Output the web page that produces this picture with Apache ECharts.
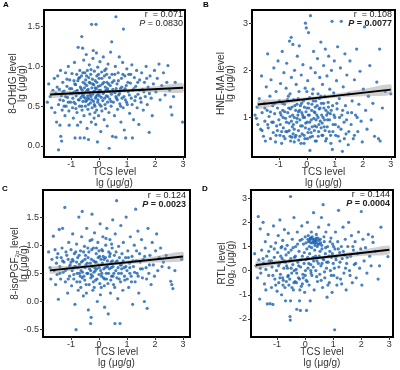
<!DOCTYPE html>
<html>
<head>
<meta charset="utf-8">
<script src="https://cdn.jsdelivr.net/npm/echarts@6/dist/echarts.min.js"></script>
<style>
  html, body { margin: 0; padding: 0; background: #fff; }
  #chart { width: 400px; height: 370px; }
</style>
</head>
<body>
<div id="chart"></div>
<script>
// tick labels
var xTicks = [-1, 0, 1, 2, 3];
var aTicks = [0.0, 0.5, 1.0, 1.5];
var bTicks = [1, 2, 3];
var cTicks = [-0.5, 0.0, 0.5, 1.0, 1.5];
var dTicks = [-2, -1, 0, 1, 2, 3];

// A: 8-OHdG vs TCS
var aPoints = [
  [-1.85,0.55],[-1.8,0.78],[-1.75,0.62],[-1.7,0.48],[-1.65,0.7],[-1.6,0.85],[-1.58,0.42],[-1.55,0.66],[-1.52,0.3],[-1.5,0.74],[-1.45,-0.05],[-1.4,0.58],
  [-1.48,0.88],[-1.45,0.52],[-1.42,0.71],[-1.4,0.26],[-1.38,0.95],[-1.37,0.12],[-1.35,0.63],[-1.34,0.06],[-1.32,0.45],[-1.3,0.8],[-1.28,0.57],[-1.25,0.69],[-1.22,0.38],[-1.2,0.92],[-1.18,0.5],[-1.15,0.75],[-1.13,0.61],[-1.1,1.0],[-1.08,0.44],[-1.07,0.26],[-1.05,0.83],[-1.03,0.66],[-1.02,0.55],
  [-0.98,0.72],[-0.97,0.91],[-0.95,0.48],[-0.94,0.6],[-0.92,0.35],[-0.9,0.82],[-0.89,0.68],[-0.88,1.05],[-0.86,0.1],[-0.85,0.53],[-0.84,0.77],[-0.82,0.63],[-0.8,0.9],[-0.79,0.42],[-0.78,0.7],[-0.77,0.26],[-0.75,1.24],[-0.74,0.58],[-0.73,0.85],[-0.72,0.66],[-0.7,0.5],[-0.69,0.95],[-0.68,0.1],[-0.67,0.74],[-0.66,0.3],[-0.65,0.61],[-0.63,0.88],[-0.62,1.375],[-0.61,0.45],[-0.6,0.7],[-0.59,1.23],[-0.58,0.56],[-0.57,0.8],[-0.56,0.65],[-0.55,1.08],[-0.54,0.38],[-0.53,0.1],[-0.52,0.73],[-0.51,0.92],[-0.5,0.6],
  [-0.49,0.5],[-0.48,0.83],[-0.47,0.68],[-0.46,1.15],[-0.45,0.57],[-0.44,0.76],[-0.43,0.22],[-0.42,0.95],[-0.41,0.63],[-0.4,0.46],[-0.39,0.71],[-0.38,0.08],[-0.37,0.86],[-0.36,0.59],[-0.35,1.02],[-0.34,0.67],[-0.33,0.4],[-0.32,0.79],[-0.31,0.54],[-0.3,0.9],[-0.29,0.62],[-0.28,0.3],[-0.27,1.53],[-0.26,0.73],[-0.25,0.48],[-0.24,0.84],[-0.23,0.65],[-0.22,1.1],[-0.21,1.2],[-0.2,0.56],[-0.19,0.77],[-0.18,0.35],[-0.17,0.94],[-0.16,0.69],[-0.15,0.5],[-0.14,0.82],[-0.13,0.6],[-0.12,0.27],[-0.11,1.53],[-0.1,0.72],[-0.095,1.17],[-0.09,0.45],[-0.08,0.88],[-0.07,0.64],[-0.06,0.05],[-0.05,0.99],[-0.04,0.58],[-0.03,0.75],[-0.02,0.38],[-0.01,0.66],
  [0.0,0.85],[0.02,0.52],[0.03,1.06],[0.05,0.7],[0.06,0.18],[0.08,0.61],[0.09,0.93],[0.1,0.44],[0.12,0.78],[0.13,0.57],[0.15,1.12],[0.16,0.67],[0.18,0.33],[0.19,0.88],[0.2,0.6],[0.22,0.74],[0.23,0.47],[0.25,0.97],[0.26,0.63],[0.28,0.8],[0.29,0.25],[0.3,0.55],[0.32,1.03],[0.33,0.69],[0.35,0.42],[0.36,-0.03],[0.37,0.86],[0.38,0.59],[0.4,0.76],[0.41,1.18],[0.43,0.5],[0.44,0.65],[0.45,1.31],[0.46,0.9],[0.48,0.12],[0.49,0.71],
  [0.51,0.55],[0.53,0.82],[0.55,0.38],[0.57,0.67],[0.58,1.0],[0.6,1.625],[0.6,0.11],[0.62,0.6],[0.64,0.78],[0.66,0.46],[0.68,0.92],[0.7,0.64],[0.72,1.12],[0.74,0.53],[0.76,0.72],[0.78,0.3],[0.8,0.85],[0.82,0.6],[0.84,1.05],[0.86,0.48],[0.87,1.47],[0.88,0.7],[0.9,0.2],[0.92,0.88],[0.94,0.58],[0.95,0.1],[0.97,0.76],[0.99,0.97],
  [1.01,0.52],[1.04,0.68],[1.06,0.9],[1.09,0.41],[1.12,0.79],[1.15,0.6],[1.17,1.02],[1.19,0.1],[1.2,0.7],[1.23,0.33],[1.26,0.86],[1.28,0.57],[1.31,0.75],[1.34,0.95],[1.36,0.48],[1.39,0.65],[1.42,0.27],[1.45,0.83],[1.48,0.6],
  [1.52,0.92],[1.55,0.71],[1.58,0.45],[1.62,0.8],[1.65,0.62],[1.68,1.0],[1.72,0.52],[1.75,0.74],[1.79,0.17],[1.82,0.88],[1.86,0.6],[1.9,0.38],[1.94,0.78],[1.98,0.95],
  [2.03,0.68],[2.08,0.85],[2.14,1.03],[2.18,0.58],[2.24,0.76],[2.3,0.92],[2.36,0.64],[2.42,0.8],[2.46,1.01],[2.52,0.7],[2.56,0.49],[2.6,0.39],[2.66,0.62],[2.72,0.8],[2.98,0.3],
  [-0.95,0.66],[-0.9,0.55],[-0.87,0.78],[-0.83,0.47],[-0.81,0.69],[-0.76,0.82],[-0.71,0.58],[-0.64,0.72],[-0.62,0.5],[-0.58,0.92],[-0.55,0.62],[-0.5,0.78],[-0.48,0.56],[-0.45,0.88],[-0.42,0.7],[-0.38,0.52],[-0.35,0.8],[-0.32,0.64],[-0.29,0.96],[-0.26,0.58],[-0.23,0.78],[-0.2,0.68],[-0.17,0.52],[-0.14,0.73],[-0.11,0.62],[-0.08,0.8],[-0.05,0.55],[-0.02,0.9],[0.01,0.63],[0.04,0.76],[0.07,0.5],[0.1,0.85],[0.14,0.66],[0.17,0.8],[0.21,0.52],[0.24,0.7],[0.27,0.9],[0.31,0.62],[0.34,0.78],[0.39,0.68],[0.42,0.56],[0.47,0.8],[0.52,0.68],[0.56,0.9],[0.61,0.72],[0.65,0.58],[0.69,0.82],[0.73,0.66],[0.77,0.5],[0.81,0.74],[0.85,0.9],[0.89,0.62],[0.93,0.72],[0.98,0.55],[1.03,0.8],[1.08,0.64],[1.13,0.9],[1.18,0.52],[1.24,0.72],[1.3,0.62],[1.38,0.8],[1.44,0.7],[1.5,0.55],[1.6,0.68],[1.7,0.85],[1.8,0.66],[-1.2,0.62],[-1.15,0.84],[-1.1,0.55],[-1.05,0.72],[-1.3,0.68],[-1.25,0.5],[-0.7,0.86],[-0.4,0.6],[0.0,0.7],[0.3,0.72],[0.6,0.62],[-0.6,0.64],[0.2,0.95],[-0.15,0.42]
];

// B: HNE-MA vs TCS
var bPoints = [
  [-1.85,1.05],[-1.8,0.98],[-1.78,1.22],[-1.75,0.85],[-1.7,1.4],[-1.65,0.75],[-1.62,1.88],[-1.6,1.1],[-1.55,0.6],[-1.52,1.3],[-1.5,0.92],[-1.48,0.5],[-1.45,1.65],[-1.42,1.15],[-1.4,2.35],[-1.38,0.78],[-1.35,1.02],[-1.32,1.45],[-1.3,0.55],[-1.28,1.8],[-1.25,0.9],[-1.22,1.25],[-1.2,0.68],[-1.18,2.05],[-1.15,1.08],[-1.12,0.48],[-1.1,1.55],[-1.08,0.82],[-1.05,1.2],[-1.03,2.2],[-1.0,0.95],
  [-0.98,1.35],[-0.96,0.62],[-0.94,1.72],[-0.92,1.05],[-0.9,0.45],[-0.88,2.4],[-0.86,1.15],[-0.84,0.78],[-0.82,1.95],[-0.8,1.28],[-0.78,0.55],[-0.76,0.98],[-0.74,1.62],[-0.72,2.15],[-0.7,0.7],[-0.68,1.1],[-0.66,1.45],[-0.64,0.88],[-0.62,2.62],[-0.6,1.02],[-0.58,0.5],[-0.56,2.7],[-0.55,1.85],[-0.53,1.22],[-0.52,0.8],[-0.5,2.55],[-0.49,0.65],[-0.47,1.38],[-0.45,1.0],[-0.44,2.0],[-0.42,0.58],[-0.4,1.15],[-0.38,1.7],[-0.36,0.9],[-0.34,2.3],[-0.32,1.05],[-0.3,0.72],[-0.28,1.55],[-0.27,2.52],[-0.25,0.95],[-0.23,1.25],[-0.21,0.45],[-0.2,1.9],[-0.18,1.1],[-0.16,0.82],[-0.14,2.12],[-0.12,1.35],[-0.1,0.62],[-0.08,1.0],[-0.06,1.62],[-0.05,3.0],[-0.04,0.88],[-0.02,2.9],
  [0.0,1.2],[0.02,0.55],[0.03,1.78],[0.05,1.05],[0.06,2.8],[0.08,0.75],[0.1,1.42],[0.11,0.3],[0.13,3.16],[0.14,2.05],[0.16,0.95],[0.18,1.28],[0.2,0.6],[0.22,1.6],[0.24,2.4],[0.26,1.12],[0.28,0.82],[0.3,1.95],[0.32,1.35],[0.34,0.5],[0.36,1.05],[0.38,2.25],[0.4,1.5],[0.42,0.7],[0.44,1.18],[0.46,1.85],[0.48,0.92],[0.5,2.6],
  [0.52,1.3],[0.54,0.62],[0.56,1.7],[0.58,1.0],[0.6,2.1],[0.62,0.8],[0.64,1.45],[0.66,2.45],[0.68,1.15],[0.7,0.55],[0.72,1.88],[0.74,0.95],[0.76,1.32],[0.78,2.3],[0.8,0.7],[0.82,1.6],[0.84,1.08],[0.86,0.45],[0.88,2.0],[0.9,3.04],[0.91,0.32],[0.92,1.25],[0.94,0.85],[0.96,1.52],[0.98,2.2],[1.0,1.0],
  [1.03,0.62],[1.06,1.78],[1.08,1.18],[1.1,2.5],[1.13,0.8],[1.16,1.4],[1.18,0.5],[1.2,2.05],[1.23,3.04],[1.25,1.05],[1.27,0.28],[1.3,1.65],[1.33,0.9],[1.36,2.35],[1.38,1.25],[1.4,0.65],[1.43,1.9],[1.46,1.1],[1.48,0.42],[1.5,1.5],
  [1.54,2.2],[1.58,0.85],[1.62,1.35],[1.66,0.55],[1.7,1.8],[1.74,1.05],[1.78,2.45],[1.82,0.7],[1.86,1.28],[1.9,1.98],[1.94,0.92],[1.98,0.48],[2.02,1.6],[2.06,2.92],[2.1,1.15],[2.15,0.75],[2.2,1.45],[2.25,2.1],[2.3,0.95],[2.36,1.3],[2.42,0.6],[2.5,1.75],[2.56,0.55],[2.6,2.45],[2.62,0.5],[2.7,1.2],[2.8,1.55],[3.0,1.5],
  [-0.95,0.85],[-0.85,1.0],[-0.75,0.7],[-0.65,1.2],[-0.55,0.92],[-0.45,0.75],[-0.35,1.28],[-0.25,0.6],[-0.15,1.05],[-0.05,0.78],[0.05,1.3],[0.15,0.68],[0.25,0.98],[0.35,0.8],[0.45,1.4],[0.55,0.88],[0.65,0.72],[0.75,1.1],[-1.05,0.72],[-0.6,0.6],[0.1,0.9],[0.4,1.0],[-0.3,1.12],[0.3,1.22],[0.6,1.3],
  [-0.95,1.1],[-0.9,0.7],[-0.87,1.3],[-0.83,0.6],[-0.79,1.12],[-0.73,0.9],[-0.69,1.38],[-0.63,0.72],[-0.59,1.18],[-0.54,0.58],[-0.51,1.05],[-0.48,0.85],[-0.43,1.25],[-0.39,0.62],[-0.35,0.98],[-0.31,1.4],[-0.29,0.52],[-0.26,1.15],[-0.22,0.82],[-0.19,1.3],[-0.17,0.65],[-0.13,1.0],[-0.09,1.22],[-0.07,0.55],[-0.03,1.12],[0.01,0.9],[0.04,0.68],[0.07,1.2],[0.09,1.05],[0.12,0.58],[0.17,1.15],[0.19,0.8],[0.23,1.35],[0.27,0.72],[0.29,1.1],[0.33,0.95],[0.37,1.25],[0.41,0.6],[0.43,0.85],[0.47,1.2],[0.51,0.78],[0.53,1.05],[0.57,0.62],[0.61,1.2],[0.63,0.95],[0.67,0.5],[0.71,1.05],[0.73,0.8],[0.77,1.22],[0.81,0.95],[0.85,0.62],[0.87,1.15],[0.93,0.7],[0.97,1.05],[1.02,0.85],[1.07,1.3],[1.12,0.6],[1.17,1.0],[1.22,0.75],[1.28,1.15],[1.34,0.55],[1.42,0.95],[1.5,0.7],[1.6,1.1],[1.7,0.62],[1.8,1.0],[-1.2,0.9],[-1.15,1.3],[-1.1,0.62],[-1.3,1.12],[-1.4,0.85],[-1.5,1.2],[-1.6,0.72],[-0.6,1.5],[0.0,1.55],[0.3,0.5],[-0.45,0.48],[0.5,1.45],[-0.1,0.45],[0.2,1.5]
];

// C: 8-isoPGF2a vs TCS
var cPoints = [
  [-1.8,0.88],[-1.75,0.6],[-1.72,0.4],[-1.68,0.75],[-1.63,1.16],[-1.6,0.55],[-1.57,0.92],[-1.55,0.3],[-1.52,0.68],[-1.5,0.48],[-1.47,0.85],[-1.45,0.04],[-1.42,1.28],[-1.4,0.62],[-1.37,0.4],[-1.35,0.78],[-1.32,0.95],[-1.3,1.3],[-1.28,0.52],[-1.25,0.7],[-1.22,1.67],[-1.2,0.35],[-1.18,0.88],[-1.15,0.58],[-1.12,0.15],[-1.1,0.75],[-1.08,1.05],[-1.05,0.45],[-1.03,0.65],[-1.0,0.92],
  [-0.98,0.28],[-0.96,0.55],[-0.94,1.2],[-0.92,0.72],[-0.9,0.4],[-0.88,0.85],[-0.86,-0.05],[-0.84,0.62],[-0.82,-0.5],[-0.8,1.02],[-0.78,0.5],[-0.76,0.78],[-0.74,0.2],[-0.72,1.5],[-0.7,0.66],[-0.68,0.35],[-0.66,0.9],[-0.64,0.55],[-0.62,1.15],[-0.6,1.6],[-0.58,0.72],[-0.56,0.1],[-0.54,0.45],[-0.52,0.98],[-0.5,0.6],
  [-0.48,0.82],[-0.46,0.3],[-0.44,1.3],[-0.42,0.68],[-0.4,0.5],[-0.38,-0.15],[-0.36,0.88],[-0.34,0.58],[-0.32,1.08],[-0.3,-0.39],[-0.29,0.42],[-0.28,-0.28],[-0.27,0.75],[-0.25,1.55],[-0.24,0.62],[-0.22,0.2],[-0.2,0.95],[-0.18,0.52],[-0.16,1.22],[-0.14,0.7],[-0.12,0.38],[-0.1,0.85],[-0.08,0.58],[-0.06,0.0],[-0.04,1.05],[-0.02,0.65],
  [0.0,0.48],[0.02,0.8],[0.04,1.38],[0.06,0.55],[0.08,0.25],[0.1,0.92],[0.12,0.68],[0.14,1.15],[0.16,0.42],[0.18,0.75],[0.2,-0.1],[0.22,0.6],[0.24,1.0],[0.26,0.5],[0.28,1.3],[0.3,0.72],[0.32,0.32],[0.33,-0.22],[0.35,0.88],[0.37,0.58],[0.39,1.1],[0.41,0.15],[0.43,0.7],[0.45,0.45],[0.47,0.95],[0.49,1.45],
  [0.5,0.62],[0.52,0.3],[0.55,0.82],[0.57,-0.39],[0.58,1.2],[0.6,0.55],[0.63,1.79],[0.65,0.72],[0.67,0.05],[0.7,0.98],[0.72,0.4],[0.75,-0.39],[0.76,0.65],[0.78,1.35],[0.8,0.5],[0.82,0.85],[0.85,0.2],[0.87,1.05],[0.9,0.6],[0.92,0.38],[0.95,0.78],[0.97,1.5],[1.0,0.55],
  [1.03,0.9],[1.06,0.25],[1.09,0.68],[1.12,1.15],[1.15,0.45],[1.18,0.8],[1.2,-0.05],[1.23,0.62],[1.26,1.0],[1.29,0.35],[1.31,1.64],[1.33,0.72],[1.36,0.5],[1.39,1.25],[1.42,0.15],[1.45,0.85],[1.48,0.58],
  [1.52,1.1],[1.55,0.42],[1.58,0.75],[1.62,0.0],[1.65,0.95],[1.68,0.6],[1.72,-0.12],[1.75,1.3],[1.78,0.5],[1.82,0.82],[1.86,0.3],[1.9,1.05],[1.94,0.65],[1.98,0.45],[2.02,0.9],[2.06,1.2],[2.1,0.55],[2.15,0.78],[2.2,0.95],[2.25,0.62],[2.3,0.7],[2.4,0.82],[2.5,0.6],[2.56,0.36],[2.6,0.3],[2.64,0.23],[2.71,0.55],[2.95,0.75],
  [-0.9,0.6],[-0.7,0.5],[-0.5,0.75],[-0.3,0.55],[-0.1,0.7],[0.1,0.5],[0.3,0.62],[0.5,0.45],[-0.6,0.42],[-0.2,0.35],[0.2,0.4],[0.6,0.7],[-0.4,0.95],[0.0,0.9],[0.4,0.85],[-1.0,0.7],[0.8,0.65],[1.1,0.5],[-0.15,0.6],[0.15,0.8],
  [-0.95,0.75],[-0.9,0.48],[-0.87,0.62],[-0.83,0.88],[-0.79,0.35],[-0.75,0.6],[-0.71,0.82],[-0.67,0.45],[-0.63,0.7],[-0.59,0.52],[-0.55,0.88],[-0.51,0.38],[-0.47,0.65],[-0.43,0.5],[-0.39,0.78],[-0.35,0.3],[-0.31,0.68],[-0.28,0.48],[-0.26,0.92],[-0.23,0.45],[-0.19,0.72],[-0.17,0.25],[-0.13,0.55],[-0.09,0.95],[-0.07,0.4],[-0.03,0.78],[0.01,0.6],[0.03,0.32],[0.07,0.75],[0.09,0.45],[0.13,0.9],[0.17,0.58],[0.19,0.28],[0.23,0.78],[0.27,0.4],[0.29,0.62],[0.34,0.5],[0.38,0.8],[0.42,0.38],[0.44,0.6],[0.48,0.72],[0.53,0.5],[0.56,0.25],[0.61,0.88],[0.64,0.42],[0.68,0.6],[0.73,0.78],[0.77,0.35],[0.81,0.58],[0.86,0.72],[0.91,0.45],[0.96,0.62],[1.01,0.4],[1.05,0.78],[1.1,0.6],[1.16,0.35],[1.21,0.72],[1.27,0.52],[1.34,0.9],[1.4,0.45],[1.47,0.7],[1.55,0.58],[1.63,0.8],[1.7,0.4],[1.8,0.65],[-1.2,0.55],[-1.15,0.82],[-1.1,0.4],[-1.05,0.62],[-1.3,0.72],[-1.4,0.5],[-1.5,0.78],[-0.65,0.25],[-0.25,1.1],[0.25,1.12],[-0.45,0.15],[0.05,0.12],[0.45,1.02],[-0.8,0.7],[0.7,0.5]
];

// D: RTL vs TCS
var dPoints = [
  [-1.8,0.7],[-1.75,0.2],[-1.7,-0.3],[-1.67,2.24],[-1.65,0.45],[-1.62,-1.18],[-1.6,1.73],[-1.58,-0.1],[-1.55,0.85],[-1.5,2.0],[-1.48,0.3],[-1.45,-0.55],[-1.42,1.2],[-1.4,0.05],[-1.37,0.6],[-1.35,-1.38],[-1.32,1.5],[-1.3,-0.2],[-1.28,0.4],[-1.25,-1.37],[-1.22,1.0],[-1.2,-0.7],[-1.18,0.15],[-1.15,-1.4],[-1.13,1.85],[-1.1,0.55],[-1.08,-0.35],[-1.05,1.15],[-1.02,0.0],[-1.0,-0.85],
  [-0.98,0.75],[-0.96,1.45],[-0.94,-0.5],[-0.92,0.3],[-0.9,2.1],[-0.88,-0.15],[-0.86,0.95],[-0.84,-1.0],[-0.82,0.5],[-0.8,1.25],[-0.78,-0.4],[-0.76,0.1],[-0.74,1.7],[-0.72,-0.7],[-0.7,-1.25],[-0.68,0.65],[-0.66,0.2],[-0.64,1.05],[-0.62,-0.25],[-0.6,1.55],[-0.58,-0.6],[-0.56,0.4],[-0.54,-1.9],[-0.53,-2.05],[-0.52,3.07],[-0.52,-1.25],[-0.5,0.85],[-0.48,-0.1],[-0.46,1.3],[-0.44,0.25],[-0.42,-0.8],[-0.4,2.2],[-0.38,0.55],[-0.36,-0.45],[-0.34,1.0],[-0.32,0.05],[-0.3,-1.6],[-0.28,1.6],[-0.26,0.35],[-0.24,-0.3],[-0.22,0.8],[-0.2,-1.25],[-0.18,1.25],[-0.17,-1.65],[-0.16,0.15],[-0.14,-0.65],[-0.12,1.85],[-0.1,0.6],[-0.08,-0.15],[-0.06,1.1],[-0.04,0.3],[-0.02,-0.9],
  [0.0,1.4],[0.02,0.45],[0.04,-0.4],[0.05,-1.65],[0.06,0.9],[0.08,2.0],[0.1,0.1],[0.12,1.2],[0.14,-0.6],[0.16,0.7],[0.18,-1.25],[0.19,1.35],[0.2,0.25],[0.22,1.6],[0.24,-0.2],[0.26,1.15],[0.28,0.55],[0.3,2.4],[0.31,1.3],[0.32,-0.8],[0.34,0.85],[0.36,1.22],[0.38,0.0],[0.4,1.5],[0.42,0.4],[0.44,-0.45],[0.46,1.1],[0.48,1.8],[0.5,0.6],
  [0.52,-0.15],[0.54,1.3],[0.56,0.2],[0.58,2.2],[0.6,0.9],[0.62,-0.7],[0.64,2.73],[0.66,0.45],[0.68,1.2],[0.7,-0.3],[0.72,0.7],[0.74,1.6],[0.76,0.1],[0.78,-1.1],[0.8,1.0],[0.82,0.35],[0.84,1.9],[0.86,-0.5],[0.88,0.8],[0.9,0.0],[0.92,1.35],[0.94,0.55],[0.96,-0.9],[0.98,1.1],[1.0,0.3],
  [1.02,-0.2],[1.05,-2.45],[1.06,0.9],[1.08,1.6],[1.1,0.45],[1.13,-0.6],[1.16,1.2],[1.19,2.5],[1.2,0.15],[1.23,0.75],[1.26,-0.35],[1.29,1.0],[1.32,0.5],[1.35,1.8],[1.38,-0.1],[1.4,0.65],[1.43,1.3],[1.46,-0.8],[1.48,0.3],
  [1.52,1.0],[1.55,2.0],[1.58,0.0],[1.62,0.6],[1.65,1.45],[1.68,-0.5],[1.72,0.85],[1.75,0.25],[1.78,1.2],[1.82,-0.3],[1.86,0.7],[1.9,1.6],[1.94,0.1],[1.98,0.9],[2.0,2.45],[2.02,-0.6],[2.06,1.3],[2.1,0.4],[2.15,0.95],[2.2,-0.1],[2.25,1.5],[2.3,0.6],[2.35,0.2],[2.4,1.4],[2.42,1.17],[2.5,0.8],[2.6,-0.35],[2.65,0.2],[2.7,1.8],[2.95,0.58],
  [0.1,1.3],[0.2,1.15],[0.25,1.4],[0.35,1.05],[0.45,1.35],[0.55,1.15],[0.15,1.0],[0.4,1.25],[-0.6,-0.2],[-0.4,-0.5],[-0.2,-0.35],[0.0,-0.2],[-0.8,-0.3],[-0.5,0.1],[-0.3,-0.1],[0.2,0.0],[-0.7,0.35],[-0.1,-0.55],[0.3,0.4],[0.6,0.3],
  [-0.95,0.2],[-0.9,-0.3],[-0.87,0.6],[-0.83,1.0],[-0.79,-0.6],[-0.75,0.4],[-0.71,0.9],[-0.67,-0.45],[-0.63,0.1],[-0.59,0.75],[-0.55,-0.35],[-0.51,0.5],[-0.47,-0.7],[-0.43,0.95],[-0.39,0.0],[-0.35,0.6],[-0.31,-0.5],[-0.27,1.1],[-0.23,0.2],[-0.19,-0.8],[-0.15,0.45],[-0.11,1.3],[-0.07,-0.3],[-0.03,0.75],[0.01,0.0],[0.03,1.15],[0.07,-0.45],[0.09,0.55],[0.11,1.45],[0.13,0.3],[0.17,1.25],[0.21,-0.1],[0.23,0.95],[0.27,1.3],[0.29,0.15],[0.33,1.15],[0.37,0.6],[0.39,1.35],[0.41,-0.25],[0.43,1.0],[0.47,0.3],[0.49,1.25],[0.53,0.8],[0.57,-0.4],[0.59,1.05],[0.63,0.5],[0.67,1.4],[0.69,-0.05],[0.73,0.95],[0.77,0.35],[0.81,-0.6],[0.85,0.6],[0.89,1.2],[0.93,-0.2],[0.97,0.7],[1.01,1.0],[1.04,0.1],[1.09,0.55],[1.14,-0.3],[1.18,0.9],[1.24,0.35],[1.3,-0.55],[1.36,0.8],[1.44,0.1],[1.5,0.55],[1.6,-0.2],[1.7,1.0],[1.8,0.3],[-1.2,0.4],[-1.15,-0.2],[-1.1,0.9],[-1.05,-0.6],[-1.3,0.8],[-1.4,-0.8],[-1.5,0.5],[-1.6,0.1],[0.3,1.2],[0.5,1.1],[0.2,1.35],[0.4,1.15]
];

// fitted lines and 95% bands
var bandX = [-1.75, -1, 0, 0.3, 1, 2, 3];
var aFit = [0.647, 0.66, 0.678, 0.683, 0.695, 0.712, 0.73];
var aLo  = [0.602, 0.63, 0.658, 0.665, 0.673, 0.674, 0.672];
var aHi  = [0.692, 0.69, 0.698, 0.701, 0.717, 0.75, 0.788];
var bFit = [1.273, 1.323, 1.39, 1.41, 1.457, 1.523, 1.59];
var bLo  = [1.183, 1.263, 1.35, 1.372, 1.412, 1.448, 1.48];
var bHi  = [1.363, 1.383, 1.43, 1.448, 1.502, 1.598, 1.70];
var cFit = [0.553, 0.592, 0.644, 0.66, 0.696, 0.748, 0.80];
var cLo  = [0.493, 0.55, 0.614, 0.632, 0.663, 0.693, 0.72];
var cHi  = [0.613, 0.634, 0.674, 0.688, 0.729, 0.803, 0.88];
var dFit = [0.233, 0.332, 0.464, 0.503, 0.596, 0.728, 0.86];
var dLo  = [0.083, 0.232, 0.394, 0.438, 0.521, 0.608, 0.68];
var dHi  = [0.383, 0.432, 0.534, 0.568, 0.671, 0.848, 1.04];

var FONT = '"Liberation Sans", Arial, sans-serif';
var DOT = '#1a62b0';

var panels = [
  { grid: { left: 44, top: 10, width: 141, height: 147 }, xr: [-1.97, 3.07], yr: [-0.14, 1.71], yTicks: aTicks, dec: 1, gap: 17,
    yName: '8-OHdG level\nlg (μg/g)', pts: aPoints, fit: aFit, lo: aLo, hi: aHi },
  { grid: { left: 252, top: 10, width: 143, height: 147 }, xr: [-1.96, 3.15], yr: [0.16, 3.28], yTicks: bTicks, dec: 0, gap: 17,
    yName: 'HNE-MA level\nlg (μg/g)', pts: bPoints, fit: bFit, lo: bLo, hi: bHi },
  { grid: { left: 43, top: 190, width: 147, height: 148 }, xr: [-2.0, 3.25], yr: [-0.63, 1.98], yTicks: cTicks, dec: 1, gap: 14,
    yName: '8-isoPGF{sub|2α} level\nlg (μg/g)', pts: cPoints, fit: cFit, lo: cLo, hi: cHi },
  { grid: { left: 251, top: 190, width: 142, height: 147 }, xr: [-1.93, 3.13], yr: [-2.75, 3.34], yTicks: dTicks, dec: 0, gap: 15,
    yName: 'RTL level\nlog{sub|2} (μg/g)', pts: dPoints, fit: dFit, lo: dLo, hi: dHi }
];

var grids = [], xAxes = [], yAxes = [], series = [];
panels.forEach(function (p, i) {
  grids.push(Object.assign({ show: true, borderColor: '#000', borderWidth: 2, backgroundColor: '#fff' }, p.grid));
  xAxes.push({
    type: 'value', gridIndex: i, min: p.xr[0], max: p.xr[1],
    name: 'TCS level\nlg (μg/g)', nameLocation: 'middle', nameGap: 10, nameMoveOverlap: false,
    nameTextStyle: { fontFamily: FONT, fontSize: 10, color: '#333', lineHeight: 11 },
    axisLine: { show: false, onZero: false },
    axisTick: { show: true, length: 3, customValues: xTicks, lineStyle: { color: '#333' } },
    axisLabel: { customValues: xTicks, fontFamily: FONT, fontSize: 9, color: '#333', margin: 3,
      formatter: function (v) { return String(v); } },
    splitLine: { show: false }
  });
  yAxes.push({
    type: 'value', gridIndex: i, min: p.yr[0], max: p.yr[1],
    name: p.yName, nameLocation: 'middle', nameGap: p.gap, nameMoveOverlap: false,
    nameTextStyle: { fontFamily: FONT, fontSize: 10, color: '#333', lineHeight: 9,
      rich: { sub: { fontFamily: FONT, fontSize: 6, color: '#333', verticalAlign: 'bottom', padding: [5, 0, 0, 0] } } },
    axisLine: { show: false, onZero: false },
    axisTick: { show: true, length: 3, customValues: p.yTicks, lineStyle: { color: '#333' } },
    axisLabel: { customValues: p.yTicks, fontFamily: FONT, fontSize: 9, color: '#333', margin: 4,
      formatter: (function (d) { return function (v) { return v.toFixed(d); }; })(p.dec) },
    splitLine: { show: false }
  });
  series.push({
    type: 'scatter', xAxisIndex: i, yAxisIndex: i, symbolSize: 3.2, z: 2, silent: true,
    itemStyle: { color: DOT }, data: p.pts
  });
  series.push({
    type: 'custom', xAxisIndex: i, yAxisIndex: i, z: 3, silent: true, clip: true,
    data: [[0, 0]],
    renderItem: (function (lo, hi) {
      return function (params, api) {
        var pts = [], k;
        for (k = 0; k < bandX.length; k++) pts.push(api.coord([bandX[k], hi[k]]));
        for (k = bandX.length - 1; k >= 0; k--) pts.push(api.coord([bandX[k], lo[k]]));
        return { type: 'polygon', shape: { points: pts, smooth: 0.2 }, style: { fill: 'rgba(150,150,150,0.45)' } };
      };
    })(p.lo, p.hi)
  });
  series.push({
    type: 'line', xAxisIndex: i, yAxisIndex: i, z: 4, silent: true, symbol: 'none',
    lineStyle: { color: '#000', width: 2 },
    data: [[bandX[0], p.fit[0]], [bandX[bandX.length - 1], p.fit[p.fit.length - 1]]]
  });
});

// panel letters and r / P annotations
var stats = [
  { r: '0.071', p: '0.0830', bold: false, x: 183, y: 10 },
  { r: '0.108', p: '0.0077', bold: true, x: 392, y: 10 },
  { r: '0.124', p: '0.0023', bold: true, x: 186, y: 191 },
  { r: '0.144', p: '0.0004', bold: true, x: 390, y: 190 }
];
var letters = [['A', 3, 1], ['B', 203, 1], ['C', 2, 185], ['D', 202, 185]];
var graphic = [];
letters.forEach(function (l) {
  graphic.push({ type: 'text', left: l[1], top: l[2], z: 10,
    style: { text: l[0], fontFamily: FONT, fontSize: 8, fontWeight: 'bold', fill: '#000' } });
});
stats.forEach(function (s) {
  graphic.push({ type: 'text', x: s.x, y: s.y, z: 10,
    style: { text: 'r  = ' + s.r, align: 'right', verticalAlign: 'top', fontFamily: FONT, fontSize: 9, fill: '#222' } });
  graphic.push({ type: 'text', x: s.x, y: s.y + 9, z: 10,
    style: {
      text: '{i|P}{n| = ' + s.p + '}', align: 'right', verticalAlign: 'top',
      rich: {
        i: { fontFamily: FONT, fontSize: 9, fontStyle: 'italic', fontWeight: s.bold ? 'bold' : 'normal', fill: '#222' },
        n: { fontFamily: FONT, fontSize: 9, fontWeight: s.bold ? 'bold' : 'normal', fill: '#222' }
      }
    } });
});

var myChart = echarts.init(document.getElementById('chart'));
myChart.setOption({
  animation: false,
  backgroundColor: '#fff',
  grid: grids,
  xAxis: xAxes,
  yAxis: yAxes,
  series: series,
  graphic: graphic
});
</script>
</body>
</html>
